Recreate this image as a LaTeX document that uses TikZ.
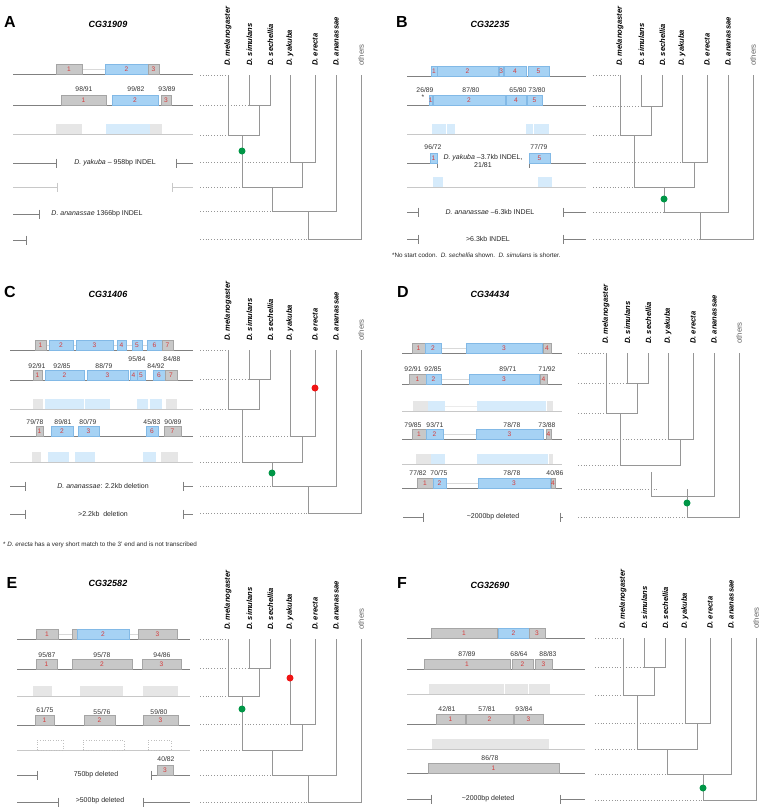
\documentclass[tikz,border=0pt]{standalone}
\usepackage{fontspec}
\setmainfont{Liberation Sans}
\usepackage{tikz}
\definecolor{rowgray}{RGB}{128,128,128}
\definecolor{faintgray}{RGB}{200,200,200}
\definecolor{exgray}{RGB}{200,200,200}
\definecolor{exgrayline}{RGB}{165,165,165}
\definecolor{exblue}{RGB}{166,210,244}
\definecolor{exblueline}{RGB}{130,185,230}
\definecolor{fadegray}{RGB}{230,230,230}
\definecolor{fadeblue}{RGB}{214,235,251}
\definecolor{numred}{RGB}{214,58,58}
\definecolor{treegray}{RGB}{150,150,150}
\definecolor{hitgreen}{RGB}{0,150,70}
\definecolor{hitred}{RGB}{240,20,20}

\newcounter{exn}
% exon box sitting on a row line: [style]{x1}{x2}{y}{label}
\newcommand{\ex}[5][gx]{\stepcounter{exn}%
  \path[#1] (#2,#4) rectangle (#3,#4-10);
  \node[num] (ex\arabic{exn}) at ({(#2+#3)/2},#4-5) {#5};}
% cut ends of a row
\newcommand{\lcut}[4]{\draw[#4] (#2,#1) -- (#3,#1) (#3,#1-4.5) -- (#3,#1+4.5);}
\newcommand{\rcut}[4]{\draw[#4] (#2,#1-4.5) -- (#2,#1+4.5) (#2,#1) -- (#3,#1);}
% species tree, upper part: name, x0, dotted start, rows 1-5
\newcommand{\phylotop}[8]{%
  \node[sp] (#1mel) at (#2,#4-9) {D. melanogaster};
  \node[sp] (#1sim) at (#2+21.5,#4-9) {D. simulans};
  \node[sp] (#1sec) at (#2+42.5,#4-9) {D. sechellia};
  \node[sp] (#1yak) at (#2+62,#4-9) {D. yakuba};
  \node[sp] (#1ere) at (#2+87,#4-9) {D. erecta};
  \node[sp] (#1ana) at (#2+108,#4-9) {D. ananassae};
  \node[oth] (#1oth) at (#2+133,#4-9) {others};
  \draw[tree] (#2,#4) -- (#2,#6) -- (#2+31,#6) -- (#2+31,#5);
  \draw[tree] (#2+21.5,#4) |- (#2+42.5,#5) -- (#2+42.5,#4);
  \draw[tree] (#2+14.5,#6) |- (#2+74,#8) -- (#2+74,#7);
  \draw[tree] (#2+62,#4) |- (#2+87,#7) -- (#2+87,#4);
  \draw[link] (#3,#4) -- (#2,#4) (#3,#5) -- (#2+21.5,#5) (#3,#6) -- (#2,#6)
    (#3,#7) -- (#2+62,#7) (#3,#8) -- (#2+14.5,#8);}
% species tree, lower part: x0, dotted start, row 1, rows 5-7
\newcommand{\phylobot}[6]{%
  \draw[tree] (#1+44,#4) |- (#1+108,#5) -- (#1+108,#3);
  \draw[tree] (#1+80.5,#5) |- (#1+133,#6) -- (#1+133,#3);
  \draw[link] (#2,#5) -- (#1+44,#5) (#2,#6) -- (#1+80.5,#6);}

\begin{document}
\begin{tikzpicture}[x=1pt, y=-1pt,
    row/.style={draw=rowgray, line width=1pt},
    frow/.style={draw=faintgray, line width=0.9pt},
    intron/.style={draw=black!15, line width=0.8pt},
    gx/.style={fill=exgray, draw=exgrayline, line width=0.4pt},
    bx/.style={fill=exblue, draw=exblueline, line width=0.4pt},
    fg/.style={fill=fadegray},
    fb/.style={fill=fadeblue},
    ob/.style={draw=black!25, dotted, line width=0.6pt},
    num/.style={text=numred, font=\fontsize{6.6}{7}\selectfont, inner sep=0pt},
    score/.style={text=black!80, font=\fontsize{6.8}{7}\selectfont, inner sep=0pt},
    note/.style={text=black!85, font=\fontsize{7}{8}\selectfont, inner sep=0pt},
    foot/.style={anchor=west, text=black!85, font=\fontsize{6.3}{7}\selectfont, inner sep=0pt},
    panel/.style={font=\bfseries\fontsize{16}{16}\selectfont, inner sep=0pt},
    gene/.style={font=\bfseries\itshape\fontsize{9}{9}\selectfont, inner sep=0pt},
    sp/.style={rotate=90, anchor=west, inner sep=0pt, font=\bfseries\itshape\fontsize{7.6}{8}\selectfont},
    oth/.style={rotate=90, anchor=west, inner sep=0pt, text=black!60, font=\fontsize{7.8}{8}\selectfont},
    tree/.style={draw=treegray, line width=0.9pt},
    link/.style={draw=treegray, dotted, line width=0.8pt},
    hit/.style={circle, inner sep=0pt, minimum size=7pt}
]
\useasboundingbox (0,0) rectangle (762,812);

% ---------------- A
\node[panel] (Alet) at (10,22) {A};
\node[gene] (Agene) at (108,24) {CG31909};
\draw[intron] (82,69) -- (105,69);
\draw[row] (13,74) -- (193,74);
\ex{56}{82}{74}{1} \ex[bx]{105}{148}{74}{2} \ex{148}{159}{74}{3}
\draw[row] (13,105) -- (193,105);
\ex{61}{106}{105}{1} \ex[bx]{112}{158}{105}{2} \ex{161}{171}{105}{3}
\node[score] (a21) at (84,89) {98/91};
\node[score] (a22) at (136,89) {99/82};
\node[score] (a23) at (167,89) {93/89};
\draw[frow] (13,134) -- (193,134);
\ex[fg]{56}{82}{134}{} \ex[fb]{106}{150}{134}{} \ex[fg]{150}{162}{134}{}
\lcut{163}{13}{56}{row} \rcut{163}{176}{193}{row}
\node[note] (a4t) at (115,163) {\textit{D. yakuba} \textendash\ 958bp INDEL};
\lcut{187}{13}{57}{frow} \rcut{187}{172}{193}{frow}
\lcut{214}{13}{39}{row}
\node[note] (a6t) at (97,214) {\textit{D. ananassae} 1366bp INDEL};
\lcut{240}{13}{26}{row}
\phylotop{A}{228}{200}{75}{105}{135}{162}{187}
\phylobot{228}{200}{75}{187}{211}{239}
\node[hit, fill=hitgreen] (Ag) at (242,151) {};

% ---------------- B
\node[panel] (Blet) at (402,22) {B};
\node[gene] (Bgene) at (490,24) {CG32235};
\draw[row] (407,76) -- (586,76);
\ex[bx]{431}{437}{76}{1} \ex[bx]{437}{498}{76}{2} \ex[bx]{499.5}{503}{76}{3}
\ex[bx]{504}{526}{76}{4} \ex[bx]{528}{549}{76}{5}
\draw[row] (407,105) -- (586,105);
\ex[bx]{429.5}{432}{105}{1} \ex[bx]{433}{505}{105}{2} \ex[bx]{506}{526}{105}{4} \ex[bx]{527}{542}{105}{5}
\node[score] (b21) at (425,90) {26/89};
\node[score] (b22) at (471,90) {87/80};
\node[score] (b23) at (518,90) {65/80};
\node[score] (b24) at (537,90) {73/80};
\node[score] (b2s) at (423,97) {*};
\draw[frow] (407,134) -- (586,134);
\ex[fb]{432}{446}{134}{} \ex[fb]{447}{455}{134}{} \ex[fb]{526}{533}{134}{} \ex[fb]{534}{549}{134}{}
\lcut{163}{407}{437}{row} \rcut{163}{529}{586}{row}
\ex[bx]{430}{437}{163}{1} \ex[bx]{529}{550}{163}{5}
\node[score] (b41) at (433,147) {96/72};
\node[score] (b42) at (539,147) {77/79};
\node[note, align=center] (b4t) at (483,160.5) {\textit{D. yakuba} \textendash 3.7kb INDEL,\\21/81};
\draw[frow] (407,187) -- (586,187);
\ex[fb]{433}{443}{187}{} \ex[fb]{538}{552}{187}{}
\lcut{212}{407}{418}{row} \rcut{212}{563}{586}{row}
\node[note] (b6t) at (490,212) {\textit{D. ananassae} \textendash 6.3kb INDEL};
\lcut{239}{407}{418}{row} \rcut{239}{563}{586}{row}
\node[note] (b7t) at (488,239) {>6.3kb INDEL};
\node[foot] (Bfoot) at (392,255) {*No start codon.\ \ \textit{D. sechellia} shown.\ \ \textit{D. simulans} is shorter.};
\phylotop{B}{620}{593}{75}{106}{135}{162}{187}
\phylobot{620}{593}{75}{187}{212}{239}
\node[hit, fill=hitgreen] (Bg) at (664,199) {};

% ---------------- C
\node[panel] (Clet) at (10,292) {C};
\node[gene] (Cgene) at (108,294) {CG31406};
\draw[intron] (46,345) -- (162,345);
\draw[row] (10,350) -- (193,350);
\ex{35}{46}{350}{1} \ex[bx]{49}{73}{350}{2} \ex[bx]{76}{113}{350}{3} \ex[bx]{117}{126}{350}{4}
\ex[bx]{132}{142}{350}{5} \ex[bx]{147}{162}{350}{6} \ex{162}{173}{350}{7}
\draw[row] (10,380) -- (193,380);
\ex{33}{42}{380}{1} \ex[bx]{45}{84}{380}{2} \ex[bx]{87}{128}{380}{3} \ex[bx]{130}{137}{380}{4}
\ex[bx]{137}{145}{380}{5} \ex[bx]{153}{165}{380}{6} \ex{165}{177}{380}{7}
\node[score] (c21) at (37,366) {92/91};
\node[score] (c22) at (62,366) {92/85};
\node[score] (c23) at (104,366) {88/79};
\node[score] (c24) at (137,359) {95/84};
\node[score] (c25) at (156,366) {84/92};
\node[score] (c26) at (172,359) {84/88};
\draw[frow] (10,409) -- (193,409);
\ex[fg]{33}{43}{409}{} \ex[fb]{45}{84}{409}{} \ex[fb]{85}{110}{409}{} \ex[fb]{137}{148}{409}{}
\ex[fb]{150}{162}{409}{} \ex[fg]{166}{177}{409}{}
\draw[row] (10,436) -- (193,436);
\ex{36}{43}{436}{1} \ex[bx]{51}{73}{436}{2} \ex[bx]{78}{99}{436}{3} \ex[bx]{146}{158}{436}{6} \ex{164}{181}{436}{7}
\node[score] (c41) at (35,422) {79/78};
\node[score] (c42) at (63,422) {89/81};
\node[score] (c43) at (88,422) {80/79};
\node[score] (c44) at (152,422) {45/83};
\node[score] (c45) at (173,422) {90/89};
\draw[frow] (10,462) -- (193,462);
\ex[fg]{32}{41}{462}{} \ex[fb]{48}{69}{462}{} \ex[fb]{75}{95}{462}{} \ex[fb]{143}{156}{462}{} \ex[fg]{161}{178}{462}{}
\lcut{486}{10}{25}{row} \rcut{486}{183}{193}{row}
\node[note] (c6t) at (103,486) {\textit{D. ananassae}: 2.2kb deletion};
\lcut{514}{10}{25}{row} \rcut{514}{183}{193}{row}
\node[note] (c7t) at (103,514) {>2.2kb\ \ deletion};
\node[foot] (Cfoot) at (3,545) {* \textit{D. erecta} has a very short match to the 3' end and is not transcribed};
\phylotop{C}{228}{200}{350}{379}{409}{436}{462}
\phylobot{228}{200}{350}{462}{486}{513}
\node[hit, fill=hitred] (Cr) at (315,388) {};
\node[hit, fill=hitgreen] (Cg) at (272,473) {};

% ---------------- D
\node[panel] (Dlet) at (403,292) {D};
\node[gene] (Dgene) at (490,294) {CG34434};
\draw[intron] (441,348) -- (466,348);
\draw[row] (402,353) -- (562,353);
\ex{412}{425}{353}{1} \ex[bx]{425}{441}{353}{2} \ex[bx]{466}{542}{353}{3} \ex{543}{551}{353}{4}
\draw[intron] (441,379) -- (469,379);
\draw[row] (402,384) -- (562,384);
\ex{409}{426}{384}{1} \ex[bx]{426}{441}{384}{2} \ex[bx]{469}{539}{384}{3} \ex{540}{547}{384}{4}
\node[score] (d21) at (413,369) {92/91};
\node[score] (d22) at (433,369) {92/85};
\node[score] (d23) at (508,369) {89/71};
\node[score] (d24) at (547,369) {71/92};
\draw[draw=black!8, line width=0.8pt] (445,406) -- (477,406);
\draw[frow] (402,411) -- (562,411);
\ex[fg]{413}{428}{411}{} \ex[fb]{428}{445}{411}{} \ex[fb]{477}{546}{411}{} \ex[fg]{547}{553}{411}{}
\draw[intron] (443,434) -- (476,434);
\draw[row] (402,439) -- (562,439);
\ex{412}{426}{439}{1} \ex[bx]{426}{443}{439}{2} \ex[bx]{476}{543}{439}{3} \ex{546}{551}{439}{4}
\node[score] (d41) at (413,425) {79/85};
\node[score] (d42) at (435,425) {93/71};
\node[score] (d43) at (512,425) {78/78};
\node[score] (d44) at (547,425) {73/88};
\draw[frow] (402,464) -- (562,464);
\ex[fg]{416}{431}{464}{} \ex[fb]{431}{445}{464}{} \ex[fb]{477}{548}{464}{} \ex[fg]{549}{553}{464}{}
\draw[intron] (446,483) -- (478,483);
\draw[row] (402,488) -- (562,488);
\ex{417}{433}{488}{1} \ex[bx]{433}{446}{488}{2} \ex[bx]{478}{550}{488}{3} \ex{551}{555}{488}{4}
\node[score] (d61) at (418,473) {77/82};
\node[score] (d62) at (439,473) {70/75};
\node[score] (d63) at (512,473) {78/78};
\node[score] (d64) at (555,473) {40/86};
\lcut{517}{403}{423}{row} \rcut{517}{560}{563}{row}
\node[note] (d7t) at (493,517) {\textasciitilde 2000bp deleted};
\phylotop{D}{606}{578}{353}{383}{413}{439}{465}
\draw[tree] (651,472) |- (714,496) -- (714,353);
\draw[tree] (687,489) |- (739,517) -- (739,353);
\draw[link] (578,489) -- (657,489) (578,517) -- (687,517);
\node[hit, fill=hitgreen] (Dg) at (687,503) {};

% ---------------- E
\node[panel] (Elet) at (12,583) {E};
\node[gene] (Egene) at (108,583) {CG32582};
\draw[intron] (58,634) -- (72,634) (129,634) -- (138,634);
\draw[row] (17,639) -- (190,639);
\ex{36}{58}{639}{1} \ex{72}{77}{639}{} \ex[bx]{77}{129}{639}{2} \ex{138}{177}{639}{3}
\draw[row] (17,669) -- (190,669);
\ex{36}{57}{669}{1} \ex{72}{132}{669}{2} \ex{142}{181}{669}{3}
\node[score] (e21) at (47,655) {95/87};
\node[score] (e22) at (102,655) {95/78};
\node[score] (e23) at (162,655) {94/86};
\draw[frow] (17,696) -- (190,696);
\ex[fg]{33}{52}{696}{} \ex[fg]{80}{123}{696}{} \ex[fg]{143}{178}{696}{}
\draw[row] (17,725) -- (190,725);
\ex{35}{54}{725}{1} \ex{84}{115}{725}{2} \ex{143}{178}{725}{3}
\node[score] (e41) at (45,710) {61/75};
\node[score] (e42) at (102,712) {55/76};
\node[score] (e43) at (159,712) {59/80};
\draw[frow] (17,750) -- (190,750);
\ex[ob]{37}{63}{750}{} \ex[ob]{83}{124}{750}{} \ex[ob]{148}{171}{750}{}
\lcut{775}{17}{37}{row} \rcut{775}{151}{190}{row}
\ex{157}{173}{775}{3}
\node[score] (e61) at (166,759) {40/82};
\node[note] (e6t) at (96,775) {750bp deleted};
\lcut{802}{17}{58}{row} \rcut{802}{143}{190}{row}
\node[note] (e7t) at (100,801) {>500bp deleted};
\phylotop{E}{228}{200}{639}{668}{696}{724}{750}
\phylobot{228}{200}{639}{750}{775}{802}
\node[hit, fill=hitgreen] (Eg) at (242,709) {};
\node[hit, fill=hitred] (Er) at (290,678) {};

% ---------------- F
\node[panel] (Flet) at (402,583) {F};
\node[gene] (Fgene) at (490,585) {CG32690};
\draw[row] (407,638) -- (585,638);
\ex{431}{497}{638}{1} \ex[bx]{498}{529}{638}{2} \ex{529}{545}{638}{3}
\draw[row] (407,669) -- (585,669);
\ex{424}{510}{669}{1} \ex{512}{533}{669}{2} \ex{535}{552}{669}{3}
\node[score] (f21) at (467,654) {87/89};
\node[score] (f22) at (519,654) {68/64};
\node[score] (f23) at (548,654) {88/83};
\draw[frow] (407,694) -- (585,694);
\ex[fg]{429}{503.5}{694}{} \ex[fg]{504.5}{527.5}{694}{} \ex[fg]{528.5}{550}{694}{}
\draw[row] (407,724) -- (585,724);
\ex{436}{465}{724}{1} \ex{466}{513}{724}{2} \ex{514}{543}{724}{3}
\node[score] (f41) at (447,709) {42/81};
\node[score] (f42) at (487,709) {57/81};
\node[score] (f43) at (524,709) {93/84};
\draw[frow] (407,749) -- (585,749);
\ex[fg]{432}{549}{749}{}
\draw[row] (407,773) -- (585,773);
\ex{428}{559}{773}{1}
\node[score] (f61) at (490,758) {86/78};
\lcut{799}{407}{431}{row} \rcut{799}{560}{585}{row}
\node[note] (f7t) at (488,799) {\textasciitilde 2000bp deleted};
\phylotop{F}{623}{595}{638}{667}{695}{723}{749}
\phylobot{623}{595}{638}{749}{774}{800}
\node[hit, fill=hitgreen] (Fg) at (703,788) {};
\end{tikzpicture}
\end{document}
